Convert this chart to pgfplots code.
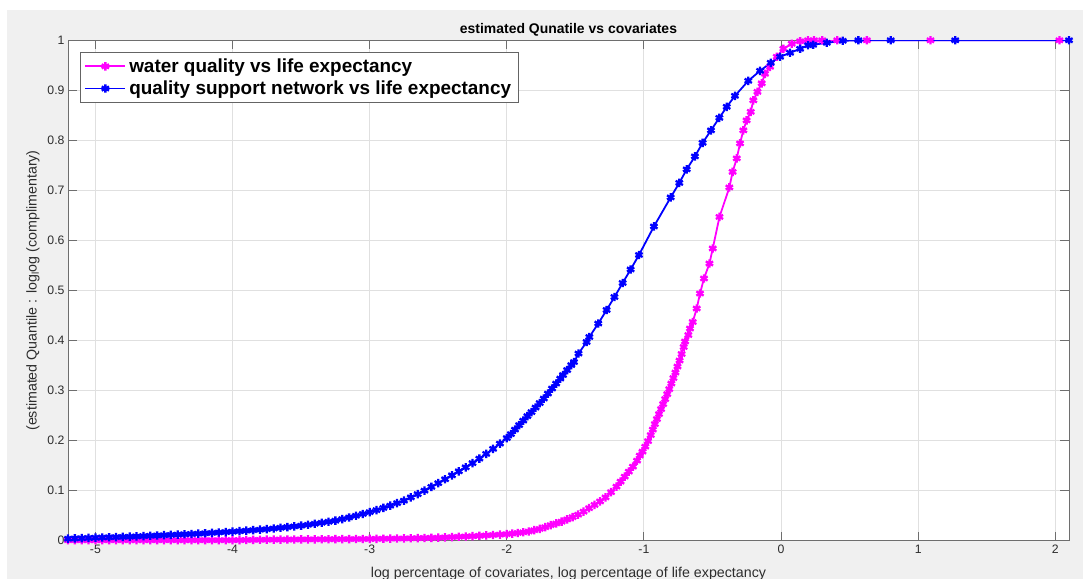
\documentclass[border=0pt]{standalone}
\usepackage{pgfplots}
\pgfplotsset{compat=1.18}
\usepackage{fontspec}
\setmainfont{Liberation Sans}

\definecolor{figbg}{RGB}{240,240,240}
\definecolor{axline}{RGB}{110,110,110}
\definecolor{ticktext}{RGB}{45,45,45}
\definecolor{gridc}{RGB}{224,224,224}
\definecolor{legframe}{RGB}{100,100,100}
\definecolor{mlmagenta}{RGB}{255,0,255}
\definecolor{mlblue}{RGB}{0,0,255}

\begin{document}
\begin{tikzpicture}[x=1bp,y=1bp]
\path[use as bounding box,fill=white] (0,0) rectangle (1092,579);
\fill[figbg] (7,0) rectangle (1083,569);
\begin{axis}[
  at={(68bp,38.3bp)}, anchor=south west,
  width=1001bp, height=500.4bp, scale only axis,
  xmin=-5.2, xmax=2.1, ymin=0, ymax=1,
  axis background/.style={fill=white},
  xtick={-5,-4,-3,-2,-1,0,1,2},
  xticklabels={-5,-4,-3,-2,-1,0,1,2},
  ytick={0,0.1,0.2,0.3,0.4,0.5,0.6,0.7,0.8,0.9,1},
  yticklabels={0,0.1,0.2,0.3,0.4,0.5,0.6,0.7,0.8,0.9,1},
  tick align=inside,
  major tick length=9bp,
  axis line style={draw=axline, line width=0.9bp},
  tick style={draw=axline, line width=0.9bp},
  grid=major,
  grid style={draw=gridc, line width=0.9bp},
  ticklabel style={font=\fontsize{12.3}{14}\selectfont, text=ticktext},
  xticklabel style={yshift=-1bp},
  title={\textbf{estimated Qunatile vs covariates}},
  title style={font=\fontsize{14}{16}\selectfont, text=black, at={(0.5,1)}, anchor=south, yshift=-5bp},
  xlabel={log percentage of covariates, log percentage of life expectancy},
  xlabel style={font=\fontsize{14.3}{16}\selectfont, text=ticktext, yshift=-6bp},
  ylabel={(estimated Quantile : log\textsubscript{l}og (complimentary)},
  ylabel style={font=\fontsize{14.3}{16}\selectfont, text=ticktext, yshift=1bp},
  legend style={at={(0.012,0.976)}, anchor=north west, draw=legframe, line width=0.9bp,
    fill=white, font=\bfseries\fontsize{19}{21}\selectfont, inner xsep=4bp, inner ysep=4bp,
    row sep=3bp, nodes={inner xsep=3bp}},
  legend cell align=left,
  legend image code/.code={\draw[line width=1.8bp, mark size=4.2bp, mark options={line width=2.3bp}, mark repeat=2, mark phase=2, #1] plot coordinates {(0bp,0bp) (20bp,0bp) (40bp,0bp)};},
  every axis plot/.append style={line width=1.8bp, mark=asterisk, mark size=4.2bp, mark options={line width=2.3bp}},
]
% water quality series
\addplot[color=mlmagenta] coordinates {
(-5.20,0.001)(-5.15,0.001)(-5.10,0.001)(-5.05,0.001)(-5.00,0.001)
(-4.95,0.001)(-4.90,0.001)(-4.85,0.001)(-4.80,0.001)(-4.75,0.001)
(-4.70,0.001)(-4.65,0.001)(-4.60,0.001)(-4.55,0.001)(-4.50,0.001)
(-4.45,0.001)(-4.40,0.001)(-4.35,0.001)(-4.30,0.001)(-4.25,0.001)
(-4.20,0.001)(-4.15,0.001)(-4.10,0.001)(-4.05,0.001)(-4.00,0.001)
(-3.95,0.0012)(-3.90,0.0014)(-3.85,0.0016)(-3.80,0.0018)(-3.75,0.002)
(-3.70,0.0021)(-3.65,0.0022)(-3.60,0.0023)(-3.55,0.0024)(-3.50,0.0025)
(-3.45,0.0026)(-3.40,0.0027)(-3.35,0.0028)(-3.30,0.0029)(-3.25,0.003)
(-3.20,0.0031)(-3.15,0.0032)(-3.10,0.0033)(-3.05,0.0034)(-3.00,0.0035)
(-2.95,0.0037)(-2.90,0.0039)(-2.85,0.0041)(-2.80,0.0043)(-2.75,0.0045)
(-2.70,0.0048)(-2.65,0.0051)(-2.60,0.0054)(-2.55,0.0057)(-2.50,0.006)
(-2.45,0.0066)(-2.40,0.0072)(-2.35,0.0078)(-2.30,0.0084)(-2.25,0.009)
(-2.20,0.0098)(-2.15,0.0106)(-2.10,0.0114)(-2.05,0.0122)(-2.00,0.013)
(-1.96,0.0142)(-1.92,0.0154)(-1.88,0.0168)(-1.84,0.0184)(-1.80,0.021)
(-1.76,0.0235)(-1.72,0.027)(-1.68,0.031)(-1.64,0.0345)(-1.60,0.038)
(-1.56,0.0425)(-1.52,0.047)(-1.48,0.052)(-1.44,0.058)(-1.40,0.065)
(-1.36,0.0715)(-1.32,0.0785)(-1.28,0.0865)(-1.24,0.097)(-1.20,0.108)
(-1.17,0.118)(-1.14,0.128)(-1.11,0.138)(-1.08,0.148)(-1.05,0.160)
(-1.03,0.170)(-1.01,0.178)(-0.99,0.188)(-0.97,0.199)(-0.95,0.211)
(-0.935,0.222)(-0.92,0.233)(-0.905,0.243)(-0.89,0.253)(-0.875,0.263)
(-0.86,0.273)(-0.845,0.283)(-0.83,0.293)(-0.815,0.303)(-0.80,0.314)
(-0.785,0.325)(-0.77,0.336)(-0.755,0.348)(-0.74,0.360)(-0.725,0.373)
(-0.71,0.387)(-0.70,0.398)
(-0.676,0.411)(-0.664,0.424)(-0.644,0.437)(-0.615,0.464)(-0.591,0.494)
(-0.562,0.524)(-0.522,0.554)(-0.498,0.584)(-0.449,0.647)(-0.377,0.706)
(-0.353,0.737)(-0.323,0.764)(-0.299,0.794)(-0.275,0.820)(-0.251,0.840)
(-0.221,0.857)(-0.202,0.880)(-0.172,0.897)(-0.141,0.914)(-0.117,0.933)
(-0.080,0.947)(-0.031,0.967)(0.017,0.983)(0.078,0.993)(0.139,0.998)
(0.197,1.000)(0.240,1.000)(0.300,1.000)(0.410,1.000)(0.626,1.000)
(1.090,1.000)(2.030,1.000)
};
\addlegendentry{water quality vs life expectancy}
% quality support network series
\addplot[color=mlblue] coordinates {
(-5.20,0.004)(-5.15,0.0045)(-5.10,0.005)(-5.05,0.0055)(-5.00,0.006)
(-4.95,0.0064)(-4.90,0.0068)(-4.85,0.0072)(-4.80,0.0076)(-4.75,0.008)
(-4.70,0.0086)(-4.65,0.0092)(-4.60,0.0098)(-4.55,0.0104)(-4.50,0.011)
(-4.45,0.0116)(-4.40,0.0122)(-4.35,0.0128)(-4.30,0.0134)(-4.25,0.014)
(-4.20,0.0148)(-4.15,0.0156)(-4.10,0.0164)(-4.05,0.0172)(-4.00,0.018)
(-3.95,0.019)(-3.90,0.020)(-3.85,0.021)(-3.80,0.022)(-3.75,0.023)
(-3.70,0.0244)(-3.65,0.0258)(-3.60,0.0272)(-3.55,0.0286)(-3.50,0.030)
(-3.45,0.0318)(-3.40,0.0338)(-3.35,0.0358)(-3.30,0.0378)(-3.25,0.040)
(-3.20,0.0432)(-3.15,0.0464)(-3.10,0.0498)(-3.05,0.0534)(-3.00,0.057)
(-2.95,0.061)(-2.90,0.0655)(-2.85,0.070)(-2.80,0.075)(-2.75,0.080)
(-2.70,0.0865)(-2.65,0.093)(-2.60,0.100)(-2.55,0.1075)(-2.50,0.115)
(-2.45,0.1228)(-2.40,0.1306)(-2.35,0.1386)(-2.30,0.1466)(-2.25,0.155)
(-2.20,0.164)(-2.15,0.1735)(-2.10,0.1835)(-2.05,0.194)(-2.00,0.205)
(-1.97,0.213)(-1.94,0.222)(-1.91,0.231)(-1.88,0.240)(-1.85,0.249)
(-1.82,0.257)(-1.79,0.266)(-1.76,0.275)(-1.73,0.284)(-1.70,0.294)
(-1.67,0.304)(-1.64,0.314)(-1.61,0.324)(-1.59,0.331)(-1.56,0.341)
(-1.53,0.351)(-1.51,0.357)
(-1.477,0.374)(-1.418,0.397)(-1.398,0.407)(-1.333,0.434)(-1.272,0.461)
(-1.215,0.487)(-1.155,0.515)(-1.097,0.542)(-1.036,0.571)(-0.927,0.628)
(-0.805,0.686)(-0.742,0.715)(-0.688,0.742)(-0.628,0.768)(-0.572,0.795)
(-0.511,0.820)(-0.450,0.845)(-0.396,0.867)(-0.336,0.889)(-0.239,0.919)
(-0.153,0.939)(-0.075,0.955)(-0.007,0.967)(0.066,0.975)(0.139,0.983)
(0.197,0.990)(0.234,0.991)(0.334,0.995)(0.450,0.999)(0.564,1.000)
(0.800,1.000)(1.270,1.000)(2.100,1.000)
};
\addlegendentry{quality support network vs life expectancy}
\end{axis}
\end{tikzpicture}
\end{document}
